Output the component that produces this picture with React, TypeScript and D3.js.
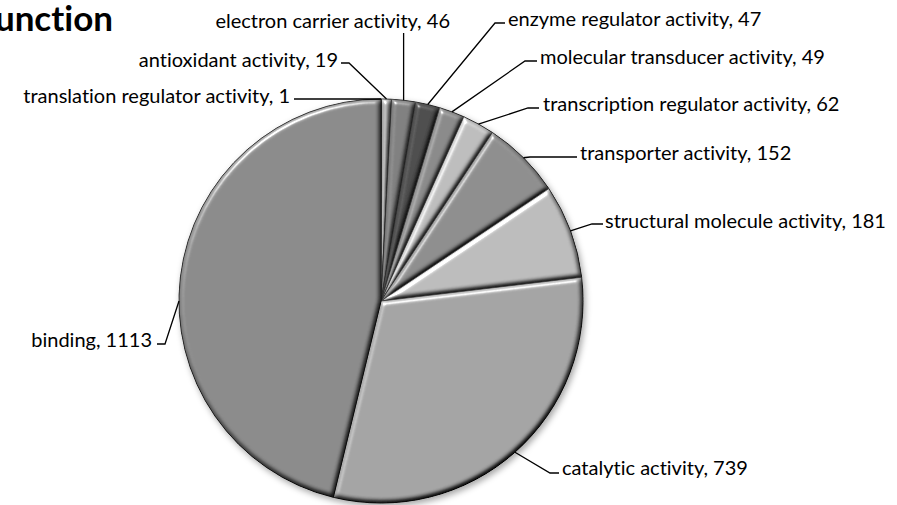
import * as d3 from 'd3'
import { FC, useRef, useEffect } from 'react'

type Slice = {
    name: string,
    value: number,
    color: string
}

type LabelSpot = {
    tx: number,
    ty: number,
    anchor: string,
    ex?: number,
    ey: number,
    lx?: number,
    angle?: number
}

const chartTitle = 'Molecular function'

const names = [
    'translation regulator activity',
    'antioxidant activity',
    'electron carrier activity',
    'enzyme regulator activity',
    'molecular transducer activity',
    'transcription regulator activity',
    'transporter activity',
    'structural molecule activity',
    'catalytic activity',
    'binding',
]
const counts = [1, 19, 46, 47, 49, 62, 152, 181, 739, 1113]
const shades = ['#9c9c9c', '#b0b0b0', '#808080', '#4e4e4e', '#8a8a8a', '#bdbdbd', '#8e8e8e', '#bcbcbc', '#a4a4a4', '#8b8b8b']

// where excel dropped each data label (text anchor + elbow of the leader line)
const labelSpots: LabelSpot[] = [
    { tx: 290, ty: 103, anchor: 'end', ex: 294, ey: 99 },
    { tx: 338, ty: 67, anchor: 'end', ex: 349, ey: 63, lx: 341 },
    { tx: 450, ty: 28, anchor: 'end', ey: 33 },
    { tx: 508, ty: 26, anchor: 'start', ex: 495, ey: 23, lx: 505 },
    { tx: 540, ty: 64, anchor: 'start', ex: 525, ey: 61, lx: 537 },
    { tx: 543, ty: 111, anchor: 'start', ex: 528, ey: 108, lx: 539 },
    { tx: 580, ty: 160, anchor: 'start', ex: 530, ey: 157, lx: 577 },
    { tx: 605, ty: 228, anchor: 'start', ex: 592, ey: 224, lx: 603 },
    { tx: 562, ty: 475, anchor: 'start', ex: 550, ey: 473, lx: 559 },
    { tx: 152, ty: 347, anchor: 'end', ex: 165, ey: 344, lx: 157, angle: 270 },
]

const data: Slice[] = names.map((name, i) => ({ name, value: counts[i], color: shades[i] }))

const App: FC = () => {

    const dimensions = { width: 897, height: 505 }
    const center = { x: 381, y: 301 }
    const radius = 202
    const svgRef = useRef<SVGSVGElement>(null)

    useEffect(() => {
        const svg = d3.select(svgRef.current)
        svg.selectAll('*').remove()

        const defs = svg.append('defs')

        /**
         * soft bevel on each slice, lit from the top left
         */
        const bevel = defs.append('filter')
            .attr('id', 'bevel')
            .attr('filterUnits', 'userSpaceOnUse')
            .attr('x', -radius - 15).attr('y', -radius - 15)
            .attr('width', radius * 2 + 30).attr('height', radius * 2 + 30)
            .attr('color-interpolation-filters', 'sRGB')
        bevel.append('feGaussianBlur').attr('in', 'SourceAlpha').attr('stdDeviation', 2.5).attr('result', 'blur')
        bevel.append('feDiffuseLighting')
            .attr('in', 'blur').attr('surfaceScale', 4).attr('diffuseConstant', 1)
            .attr('lighting-color', '#fff').attr('result', 'diffuse')
            .append('feDistantLight').attr('azimuth', 240).attr('elevation', 55)
        bevel.append('feComposite')
            .attr('in', 'SourceGraphic').attr('in2', 'diffuse').attr('operator', 'arithmetic')
            .attr('k1', 1 / Math.sin(55 * Math.PI / 180)).attr('k2', 0).attr('k3', 0).attr('k4', 0)
            .attr('result', 'lit')
        bevel.append('feSpecularLighting')
            .attr('in', 'blur').attr('surfaceScale', 4).attr('specularConstant', 0.45)
            .attr('specularExponent', 40).attr('lighting-color', '#fff').attr('result', 'spec')
            .append('feDistantLight').attr('azimuth', 240).attr('elevation', 35)
        bevel.append('feComposite').attr('in', 'spec').attr('in2', 'SourceAlpha').attr('operator', 'in').attr('result', 'specIn')
        bevel.append('feComposite')
            .attr('in', 'lit').attr('in2', 'specIn').attr('operator', 'arithmetic')
            .attr('k1', 0).attr('k2', 1).attr('k3', 1).attr('k4', 0)

        const shadow = defs.append('filter').attr('id', 'shadow')
            .attr('x', '-10%').attr('y', '-10%').attr('width', '125%').attr('height', '125%')
        shadow.append('feDropShadow').attr('dx', 2).attr('dy', 3).attr('stdDeviation', 3)
            .attr('flood-color', '#000').attr('flood-opacity', 0.35)

        // title sits partly off the left edge, like the cropped original
        svg.append('text')
            .attr('x', 113)
            .attr('y', 31)
            .attr('text-anchor', 'end')
            .attr('font-family', 'Lato, sans-serif')
            .attr('font-weight', 700)
            .attr('font-size', 35)
            .attr('fill', '#000')
            .style('font-variant-ligatures', 'none')
            .text(chartTitle)

        const pie = d3.pie<Slice>().sort(null).value(d => d.value)
        const arcs = pie(data)
        const arc = d3.arc<d3.PieArcDatum<Slice>>().innerRadius(0).outerRadius(radius)

        const g = svg.append('g')
            .attr('transform', `translate(${center.x},${center.y})`)
            .attr('filter', 'url(#shadow)')

        g.selectAll('path')
            .data(arcs)
            .enter()
            .append('path')
            .attr('d', arc)
            .attr('fill', d => d.data.color)
            .attr('stroke', '#333')
            .attr('stroke-width', 0.8)
            .attr('filter', 'url(#bevel)')

        /**
         * leader lines: rim point -> elbow -> next to the text
         */
        const rimPoint = (d: d3.PieArcDatum<Slice>, i: number): [number, number] => {
            const a = labelSpots[i].angle !== undefined
                ? labelSpots[i].angle! * Math.PI / 180
                : (d.startAngle + d.endAngle) / 2
            return [center.x + Math.sin(a) * radius, center.y - Math.cos(a) * radius]
        }

        const leaders = svg.append('g')
        arcs.forEach((d, i) => {
            const spot = labelSpots[i]
            const [rx, ry] = rimPoint(d, i)
            const ex = spot.ex ?? rx
            const lx = spot.lx ?? ex
            leaders.append('path')
                .attr('d', d3.line()([[rx, ry], [ex, spot.ey], [lx, spot.ey]]))
                .attr('fill', 'none')
                .attr('stroke', '#000')
                .attr('stroke-width', 1.3)
        })

        svg.append('g')
            .selectAll('text')
            .data(arcs)
            .enter()
            .append('text')
            .attr('x', (_, i) => labelSpots[i].tx)
            .attr('y', (_, i) => labelSpots[i].ty)
            .attr('text-anchor', (_, i) => labelSpots[i].anchor)
            .attr('font-family', 'Lato, sans-serif')
            .attr('font-size', 20)
            .attr('fill', '#000')
            .style('font-variant-ligatures', 'none')
            .text(d => `${d.data.name}, ${d.data.value}`)
    }, [])

    return (
        <svg
            ref={svgRef}
            width={dimensions.width}
            height={dimensions.height}
            style={{ position: 'absolute', left: 0, top: 0, background: '#fff' }}
        />
    )
}

export default App
